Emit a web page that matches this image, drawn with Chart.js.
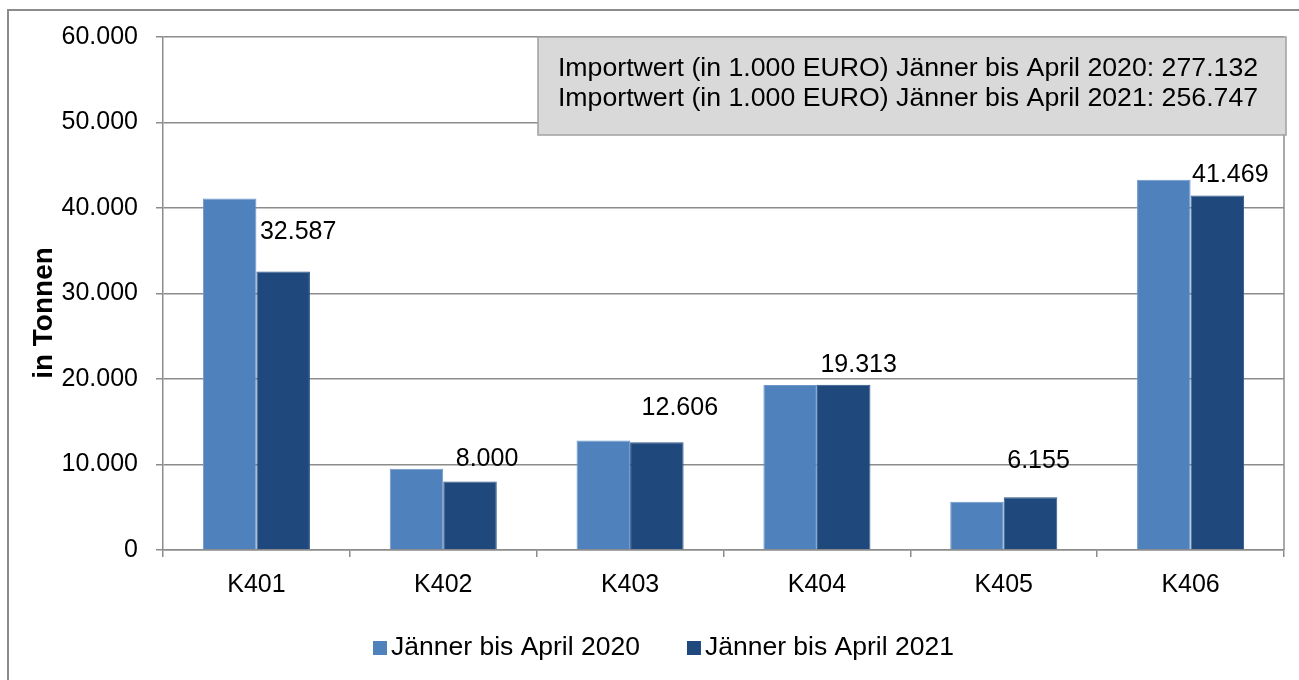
<!DOCTYPE html>
<html>
<head>
<meta charset="utf-8">
<script src="https://cdn.jsdelivr.net/npm/chart.js@4.4.0/dist/chart.umd.min.js"></script>
<style>
  html, body { margin: 0; padding: 0; background: #fff; }
  #wrap { position: relative; width: 1299px; height: 680px; }
</style>
</head>
<body>
<div id="wrap"><canvas id="c" width="1299" height="680"></canvas></div>
<script>
const categories = ["K401", "K402", "K403", "K404", "K405", "K406"];
const seriesNames = ["Jänner bis April 2020", "Jänner bis April 2021"];
const values2020 = [41100, 9500, 12800, 19300, 5650, 43300];
const values2021 = [32587, 8000, 12606, 19313, 6155, 41469];
const yTicks = [0, 10000, 20000, 30000, 40000, 50000, 60000];
const yTitle = "in Tonnen";
const infoLines = [
  "Importwert (in 1.000 EURO) Jänner bis April 2020: 277.132",
  "Importwert (in 1.000 EURO) Jänner bis April 2021: 256.747"
];
// manual label nudges (pixels) mimicking the hand-placed labels of the original
const labelDx = [15, 17, 23, 15, 8, 13];
const labelDy = [-39, -22, -34, -20, -36, -20];

const FONT = "'Liberation Sans', Arial, sans-serif";
const GRID = "#8c8c8c";
const fmt = v => v.toLocaleString('de-DE');

const framePlugin = {
  id: 'frame',
  beforeDraw(chart) {
    const ctx = chart.ctx;
    ctx.save();
    ctx.strokeStyle = GRID;
    ctx.lineWidth = 2;
    ctx.beginPath();
    ctx.moveTo(8, 680); ctx.lineTo(8, 10); ctx.lineTo(1299, 10);
    ctx.stroke();
    ctx.restore();
  },
  afterDraw(chart) {
    const ctx = chart.ctx;
    const a = chart.chartArea;
    ctx.save();
    // right edge of plot area
    ctx.strokeStyle = GRID;
    ctx.lineWidth = 1.5;
    ctx.beginPath();
    ctx.moveTo(a.right, a.top); ctx.lineTo(a.right, a.bottom);
    ctx.stroke();

    // y axis title
    ctx.save();
    ctx.translate(52, 313);
    ctx.rotate(-Math.PI / 2);
    ctx.fillStyle = "#000";
    ctx.font = "bold 28px " + FONT;
    ctx.textAlign = "center";
    ctx.textBaseline = "alphabetic";
    ctx.fillText(yTitle, 0, 0);
    ctx.restore();

    // info box
    const bx = 538, by = a.top, bw = 748, bh = 98;
    ctx.fillStyle = "#d9d9d9";
    ctx.fillRect(bx, by, bw, bh);
    ctx.strokeStyle = "#a0a0a0";
    ctx.lineWidth = 1.5;
    ctx.strokeRect(bx, by, bw, bh);
    ctx.fillStyle = "#000";
    ctx.font = "26.7px " + FONT;
    ctx.textAlign = "center";
    ctx.textBaseline = "middle";
    infoLines.forEach((t, i) => ctx.fillText(t, 908, by + 32 + i * 30));

    // data labels for 2021 series
    const meta = chart.getDatasetMeta(1);
    ctx.font = "25px " + FONT;
    meta.data.forEach((bar, i) => {
      ctx.fillText(fmt(chart.data.datasets[1].data[i]), bar.x + labelDx[i], bar.y + labelDy[i]);
    });

    // legend
    ctx.font = "26.5px " + FONT;
    ctx.textAlign = "left";
    let x = 373;
    const ly = 648;
    chart.data.datasets.forEach((ds, i) => {
      ctx.fillStyle = ds.backgroundColor;
      ctx.fillRect(x, ly - 7, 14, 14);
      ctx.fillStyle = "#000";
      ctx.fillText(ds.label, x + 18, ly);
      x += 18 + ctx.measureText(ds.label).width + 47;
    });
    ctx.restore();
  }
};

new Chart(document.getElementById('c'), {
  type: 'bar',
  data: {
    labels: categories,
    datasets: [
      { label: seriesNames[0], data: values2020, backgroundColor: "#4f81bd",
        borderColor: "#6d96c9", borderWidth: 1 },
      { label: seriesNames[1], data: values2021, backgroundColor: "#1f497d",
        borderColor: "#2d5688", borderWidth: 1 }
    ]
  },
  options: {
    responsive: false,
    animation: false,
    layout: { padding: { top: 37, right: 15, bottom: 80, left: 0 } },
    datasets: { bar: { categoryPercentage: 0.573, barPercentage: 1.0 } },
    plugins: { legend: { display: false }, tooltip: { enabled: false } },
    scales: {
      x: {
        grid: { drawOnChartArea: false, drawTicks: true, tickLength: 7, color: GRID, lineWidth: 1.5, offset: true },
        border: { color: GRID, width: 1.5 },
        ticks: { color: "#000", font: { family: FONT, size: 25 }, padding: 13, maxRotation: 0 },
        afterFit(s) { s.height = 50; }
      },
      y: {
        min: 0, max: 60000,
        afterBuildTicks(s) { s.ticks = yTicks.map(v => ({ value: v })); },
        grid: { color: GRID, lineWidth: 1.5, tickLength: 7 },
        border: { color: GRID, width: 1.5 },
        ticks: { color: "#000", font: { family: FONT, size: 25 }, padding: 18, callback: v => fmt(v) },
        afterFit(s) { s.width = 163; }
      }
    }
  },
  plugins: [framePlugin]
});
</script>
</body>
</html>
